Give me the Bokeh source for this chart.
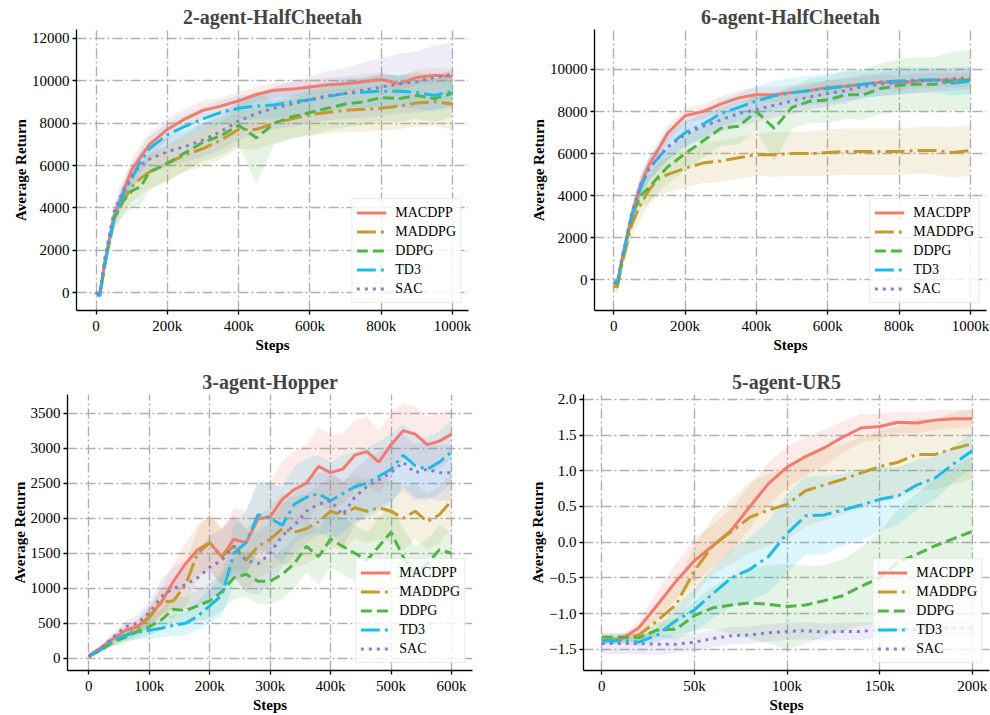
from bokeh.plotting import figure
from bokeh.layouts import column, row
from bokeh.models import FixedTicker, Range1d, Legend, LegendItem
from bokeh.embed import file_html
from bokeh.resources import INLINE

# ---------------- data ----------------
algos = ["MACDPP", "MADDPG", "DDPG", "TD3", "SAC"]

# 2-agent-HalfCheetah (steps in thousands)
hc2_steps = [0, 10, 25, 50, 75, 100, 125, 150, 200, 250, 300, 350, 400, 450, 500, 550, 600, 650, 700, 750, 800, 850, 900, 950, 1000]
hc2_macdpp = [0, -100, 1500, 3600, 4700, 5800, 6400, 7000, 7700, 8200, 8600, 8800, 9050, 9350, 9550, 9600, 9700, 9800, 9850, 9950, 10050, 9850, 10150, 10250, 10200]
hc2_maddpg = [0, -150, 1400, 3400, 4300, 5000, 5400, 5700, 6100, 6500, 6800, 7200, 7700, 7700, 8000, 8200, 8400, 8500, 8600, 8650, 8700, 8800, 8950, 9000, 8900]
hc2_ddpg = [0, -100, 1400, 3500, 4300, 4800, 5000, 5700, 6100, 6600, 7100, 7400, 7900, 7300, 8000, 8300, 8500, 8700, 8900, 9000, 9200, 9150, 9300, 9150, 9400]
hc2_td3 = [0, -150, 1400, 3500, 4600, 5400, 6200, 6800, 7450, 7850, 8200, 8500, 8700, 8800, 8850, 9000, 9100, 9250, 9400, 9450, 9500, 9500, 9450, 9300, 9500]
hc2_sac = [0, -100, 1700, 3800, 4800, 5500, 6000, 6300, 6650, 6900, 7200, 7600, 8100, 8450, 8700, 8900, 9100, 9300, 9400, 9550, 9700, 9850, 9950, 10150, 10300]
hc2_macdpp_sd = [50, 80, 200, 300, 400, 500, 550, 550, 500, 450, 450, 400, 400, 350, 350, 350, 350, 350, 350, 350, 350, 350, 350, 350, 350]
hc2_maddpg_sd = [60, 100, 250, 450, 600, 700, 750, 800, 800, 800, 850, 900, 900, 950, 950, 950, 1000, 1000, 1000, 1050, 1050, 1100, 1100, 1150, 1200]
hc2_ddpg_sd = [60, 100, 250, 500, 700, 800, 850, 850, 850, 850, 900, 900, 950, 2200, 1000, 1000, 1050, 1050, 1100, 1100, 1100, 1100, 1100, 1100, 1100]
hc2_td3_sd = [50, 90, 200, 350, 450, 500, 550, 550, 550, 550, 550, 550, 600, 600, 650, 650, 700, 700, 700, 700, 750, 750, 750, 750, 750]
hc2_sac_sd = [50, 80, 250, 400, 500, 600, 650, 700, 700, 750, 800, 850, 900, 950, 1000, 1050, 1100, 1150, 1200, 1300, 1350, 1400, 1450, 1500, 1500]

# 6-agent-HalfCheetah
hc6_steps = [0, 10, 25, 50, 75, 100, 125, 150, 200, 250, 300, 350, 400, 450, 500, 550, 600, 650, 700, 750, 800, 850, 900, 950, 1000]
hc6_macdpp = [-100, -150, 1100, 3000, 4500, 5500, 6200, 6950, 7800, 8000, 8350, 8650, 8800, 8800, 8900, 9000, 9150, 9200, 9300, 9400, 9350, 9450, 9500, 9500, 9500]
hc6_maddpg = [-300, -350, 900, 2600, 3600, 4300, 4800, 5000, 5300, 5550, 5650, 5800, 5950, 5950, 6000, 6000, 6050, 6100, 6100, 6100, 6100, 6150, 6150, 6050, 6150]
hc6_ddpg = [-100, -200, 1100, 3000, 4000, 4400, 4900, 5350, 6000, 6600, 7200, 7300, 8000, 7200, 8200, 8500, 8550, 8800, 8800, 9100, 9250, 9300, 9300, 9450, 9500]
hc6_td3 = [-100, -150, 1100, 3000, 4400, 5300, 5800, 6300, 7000, 7400, 7900, 8200, 8500, 8750, 8900, 9000, 9100, 9200, 9300, 9400, 9450, 9500, 9500, 9350, 9450]
hc6_sac = [-100, -150, 1200, 3100, 4500, 5300, 5800, 6300, 6900, 7300, 7600, 7900, 8100, 8300, 8500, 8700, 8850, 9000, 9200, 9300, 9400, 9450, 9500, 9550, 9600]
hc6_macdpp_sd = [100, 150, 250, 350, 400, 400, 400, 400, 350, 350, 350, 350, 350, 350, 350, 350, 350, 350, 350, 350, 350, 350, 350, 350, 350]
hc6_maddpg_sd = [300, 300, 400, 600, 700, 700, 800, 850, 900, 950, 1000, 1000, 1000, 1050, 1050, 1050, 1100, 1100, 1100, 1100, 1100, 1100, 1150, 1200, 1200]
hc6_ddpg_sd = [100, 150, 300, 500, 600, 700, 750, 800, 800, 800, 850, 850, 900, 1600, 1000, 1050, 1100, 1150, 1200, 1200, 1250, 1300, 1300, 1400, 1400]
hc6_td3_sd = [100, 150, 300, 400, 500, 550, 600, 650, 650, 650, 650, 650, 700, 700, 700, 700, 700, 700, 650, 650, 650, 600, 600, 600, 600]
hc6_sac_sd = [100, 150, 300, 400, 500, 550, 600, 600, 600, 600, 600, 600, 600, 600, 600, 600, 600, 600, 550, 550, 550, 550, 550, 550, 550]

# 3-agent-Hopper
hop_steps = [0, 20, 40, 60, 80, 100, 120, 140, 160, 180, 200, 220, 240, 260, 280, 300, 320, 340, 360, 380, 400, 420, 440, 460, 480, 500, 520, 540, 560, 580, 600]
hop_macdpp = [40, 150, 280, 400, 450, 600, 800, 1100, 1350, 1550, 1650, 1450, 1700, 1650, 1990, 2020, 2270, 2410, 2500, 2740, 2650, 2700, 2900, 2950, 2800, 3050, 3250, 3200, 3050, 3100, 3200]
hop_maddpg = [30, 130, 240, 320, 420, 580, 800, 820, 1050, 1500, 1650, 1450, 1600, 1400, 1600, 1700, 1850, 1800, 1850, 1950, 2100, 2050, 2150, 2100, 2150, 2100, 2000, 2100, 1950, 2050, 2250]
hop_ddpg = [30, 120, 230, 300, 380, 450, 550, 700, 680, 750, 820, 950, 1150, 1200, 1100, 1100, 1200, 1350, 1600, 1450, 1700, 1600, 1500, 1400, 1600, 1800, 1450, 1200, 1350, 1550, 1500]
hop_td3 = [30, 130, 250, 330, 370, 400, 430, 470, 500, 600, 750, 900, 1500, 1650, 2050, 2000, 1900, 2200, 2300, 2350, 2250, 2350, 2450, 2500, 2600, 2700, 2900, 2750, 2700, 2800, 2950]
hop_sac = [20, 140, 300, 450, 500, 650, 880, 1000, 1050, 1150, 1300, 1400, 1600, 1400, 1350, 1500, 1750, 1900, 2100, 2200, 2250, 2050, 2300, 2450, 2550, 2650, 2800, 2650, 2700, 2650, 2650]
hop_macdpp_sd = [20, 40, 60, 80, 100, 150, 200, 250, 300, 350, 400, 400, 450, 450, 500, 500, 550, 550, 550, 550, 550, 500, 500, 500, 450, 450, 400, 400, 400, 400, 350]
hop_maddpg_sd = [20, 40, 60, 80, 100, 150, 200, 250, 300, 350, 400, 400, 400, 450, 450, 450, 500, 500, 500, 500, 500, 500, 450, 450, 450, 450, 450, 400, 400, 400, 400]
hop_ddpg_sd = [20, 40, 60, 80, 100, 120, 150, 180, 200, 220, 250, 280, 300, 320, 320, 330, 350, 350, 380, 400, 400, 400, 400, 400, 400, 400, 400, 400, 350, 350, 300]
hop_td3_sd = [20, 40, 60, 80, 100, 120, 130, 150, 170, 200, 250, 300, 400, 450, 500, 500, 550, 550, 550, 550, 550, 550, 500, 500, 500, 500, 450, 450, 450, 450, 450]
hop_sac_sd = [20, 40, 60, 80, 120, 180, 250, 300, 350, 400, 450, 450, 450, 450, 450, 450, 450, 450, 450, 450, 450, 450, 400, 400, 400, 400, 400, 400, 400, 400, 400]

# 5-agent-UR5
ur5_steps = [0, 10, 20, 30, 40, 50, 60, 70, 80, 90, 100, 110, 120, 130, 140, 150, 160, 170, 180, 190, 200]
ur5_macdpp = [-1.38, -1.37, -1.2, -0.88, -0.55, -0.26, -0.05, 0.17, 0.5, 0.82, 1.05, 1.2, 1.32, 1.47, 1.6, 1.62, 1.68, 1.67, 1.71, 1.73, 1.73]
ur5_maddpg = [-1.38, -1.36, -1.3, -1.1, -0.88, -0.4, -0.05, 0.15, 0.35, 0.45, 0.53, 0.72, 0.8, 0.88, 0.97, 1.06, 1.12, 1.23, 1.23, 1.31, 1.38]
ur5_ddpg = [-1.33, -1.33, -1.34, -1.23, -1.22, -1.03, -0.92, -0.88, -0.85, -0.87, -0.9, -0.88, -0.82, -0.75, -0.62, -0.5, -0.28, -0.17, -0.05, 0.05, 0.15]
ur5_td3 = [-1.38, -1.38, -1.4, -1.3, -1.1, -0.95, -0.72, -0.5, -0.38, -0.2, 0.12, 0.37, 0.38, 0.45, 0.52, 0.6, 0.65, 0.8, 0.9, 1.1, 1.28]
ur5_sac = [-1.42, -1.42, -1.42, -1.43, -1.43, -1.4, -1.35, -1.31, -1.3, -1.27, -1.25, -1.24, -1.26, -1.25, -1.25, -1.23, -1.22, -1.22, -1.21, -1.2, -1.2]
ur5_macdpp_sd = [0.05, 0.05, 0.1, 0.2, 0.25, 0.3, 0.3, 0.3, 0.3, 0.3, 0.28, 0.27, 0.25, 0.22, 0.2, 0.18, 0.15, 0.15, 0.14, 0.13, 0.12]
ur5_maddpg_sd = [0.05, 0.05, 0.1, 0.2, 0.3, 0.35, 0.4, 0.45, 0.5, 0.5, 0.5, 0.5, 0.5, 0.5, 0.5, 0.5, 0.5, 0.5, 0.5, 0.5, 0.5]
ur5_ddpg_sd = [0.05, 0.05, 0.05, 0.1, 0.15, 0.2, 0.3, 0.4, 0.5, 0.55, 0.6, 0.55, 0.5, 0.5, 0.55, 0.65, 0.75, 0.85, 0.95, 1.0, 1.05]
ur5_td3_sd = [0.05, 0.05, 0.05, 0.1, 0.2, 0.3, 0.35, 0.4, 0.45, 0.5, 0.55, 0.55, 0.55, 0.5, 0.5, 0.45, 0.4, 0.35, 0.3, 0.25, 0.25]
ur5_sac_sd = [0.15, 0.15, 0.15, 0.15, 0.12, 0.12, 0.12, 0.12, 0.12, 0.12, 0.12, 0.12, 0.12, 0.12, 0.12, 0.12, 0.12, 0.12, 0.12, 0.12, 0.12]

# tick values / labels
hc_xticks = [0, 200, 400, 600, 800, 1000]
hc_xlabels = ["0", "200k", "400k", "600k", "800k", "1000k"]
hc2_yticks = [0, 2000, 4000, 6000, 8000, 10000, 12000]
hc6_yticks = [0, 2000, 4000, 6000, 8000, 10000]
hop_xticks = [0, 100, 200, 300, 400, 500, 600]
hop_xlabels = ["0", "100k", "200k", "300k", "400k", "500k", "600k"]
hop_yticks = [0, 500, 1000, 1500, 2000, 2500, 3000, 3500]
ur5_xticks = [0, 50, 100, 150, 200]
ur5_xlabels = ["0", "50k", "100k", "150k", "200k"]
ur5_yticks = [-1.5, -1.0, -0.5, 0.0, 0.5, 1.0, 1.5, 2.0]
ur5_ylabels = ["\u22121.5", "\u22121.0", "\u22120.5", "0.0", "0.5", "1.0", "1.5", "2.0"]

# ---------------- styles ----------------
colors = ["#f47a6e", "#c49a2c", "#52b447", "#1cbbe8", "#8a7ec6"]
dashes = ["solid", "19 5 3 5", "11 5", "19 5 3 5", "3 5"]
FONT = "Liberation Serif, Times New Roman, serif"


def panel(title, x, means, sds, xr, yr, xticks, xlabels, yticks, ylabels,
          w, h, bl, br, bt, bb):
    p = figure(width=w, height=h, output_backend="svg", toolbar_location=None,
               x_range=Range1d(*xr), y_range=Range1d(*yr),
               min_border_left=bl, min_border_right=br,
               min_border_top=bt, min_border_bottom=bb)
    p.outline_line_color = None
    p.background_fill_color = "white"
    p.border_fill_color = "white"
    p.title.text = title
    p.title.text_font = FONT
    p.title.text_font_style = "bold"
    p.title.text_font_size = "20px"
    p.title.align = "center"
    p.title.standoff = 3

    for ax, ticks, labels in ((p.xaxis[0], xticks, xlabels), (p.yaxis[0], yticks, ylabels)):
        ax.ticker = FixedTicker(ticks=ticks)
        if labels is not None:
            ax.major_label_overrides = {t: l for t, l in zip(ticks, labels)}
        ax.major_label_text_font = FONT
        ax.major_label_text_font_size = "15px"
        ax.major_label_text_color = "black"
        ax.axis_label_text_font = FONT
        ax.axis_label_text_font_style = "bold"
        ax.axis_label_text_font_size = "15px"
        ax.axis_label_text_color = "black"
        ax.axis_line_color = "black"
        ax.axis_line_width = 1.3
        ax.major_tick_line_color = "black"
        ax.major_tick_line_width = 1.3
        ax.major_tick_out = 4
        ax.major_tick_in = 0
        ax.minor_tick_line_color = None
        ax.major_label_standoff = 3
        ax.axis_label_standoff = 0
    p.xaxis.axis_label = "Steps"
    p.yaxis.axis_label = "Average Return"

    for g in (p.xgrid[0], p.ygrid[0]):
        g.grid_line_color = "#b0b0b0"
        g.grid_line_width = 1.4
        g.grid_line_dash = "10 3 2 3"

    for m, s, c in zip(means, sds, colors):
        lo = [a - b for a, b in zip(m, s)]
        hi = [a + b for a, b in zip(m, s)]
        p.varea(x=x, y1=lo, y2=hi, fill_color=c, fill_alpha=0.15)

    items = []
    for name, m, c, d in zip(algos, means, colors, dashes):
        r = p.line(x, m, line_color=c, line_width=3, line_dash=d)
        items.append(LegendItem(label=name, renderers=[r]))

    lg = Legend(items=items, location="bottom_right")
    lg.label_text_font = FONT
    lg.label_text_font_size = "14px"
    lg.label_text_color = "black"
    lg.glyph_width = 30
    lg.glyph_height = 19
    lg.label_height = 19
    lg.label_standoff = 9
    lg.spacing = 0
    lg.padding = 4
    lg.margin = 7
    lg.border_line_color = "#d6d6d6"
    lg.border_line_width = 1
    lg.background_fill_color = "white"
    lg.background_fill_alpha = 0.8
    p.add_layout(lg)
    return p


p1 = panel("2-agent-HalfCheetah", hc2_steps,
           [hc2_macdpp, hc2_maddpg, hc2_ddpg, hc2_td3, hc2_sac],
           [hc2_macdpp_sd, hc2_maddpg_sd, hc2_ddpg_sd, hc2_td3_sd, hc2_sac_sd],
           (-55, 1045), (-834, 12410), hc_xticks, hc_xlabels, hc2_yticks, None,
           495, 357, 76, 27, 29, 47)
p2 = panel("6-agent-HalfCheetah", hc6_steps,
           [hc6_macdpp, hc6_maddpg, hc6_ddpg, hc6_td3, hc6_sac],
           [hc6_macdpp_sd, hc6_maddpg_sd, hc6_ddpg_sd, hc6_td3_sd, hc6_sac_sd],
           (-54, 1045), (-1460, 11902), hc_xticks, hc_xlabels, hc6_yticks, None,
           495, 357, 99, 4, 29, 47)
p3 = panel("3-agent-Hopper", hop_steps,
           [hop_macdpp, hop_maddpg, hop_ddpg, hop_td3, hop_sac],
           [hop_macdpp_sd, hop_maddpg_sd, hop_ddpg_sd, hop_td3_sd, hop_sac_sd],
           (-35.3, 634.8), (-174, 3766), hop_xticks, hop_xlabels, hop_yticks, None,
           495, 358, 67, 23, 37, 40)
p4 = panel("5-agent-UR5", ur5_steps,
           [ur5_macdpp, ur5_maddpg, ur5_ddpg, ur5_td3, ur5_sac],
           [ur5_macdpp_sd, ur5_maddpg_sd, ur5_ddpg_sd, ur5_td3_sd, ur5_sac_sd],
           (-9.87, 209.3), (-1.798, 2.069), ur5_xticks, ur5_xlabels, ur5_yticks, ur5_ylabels,
           495, 358, 88, 1, 37, 40)

layout = column(row(p1, p2), row(p3, p4))
open("out.html", "w").write(file_html(layout, INLINE))
